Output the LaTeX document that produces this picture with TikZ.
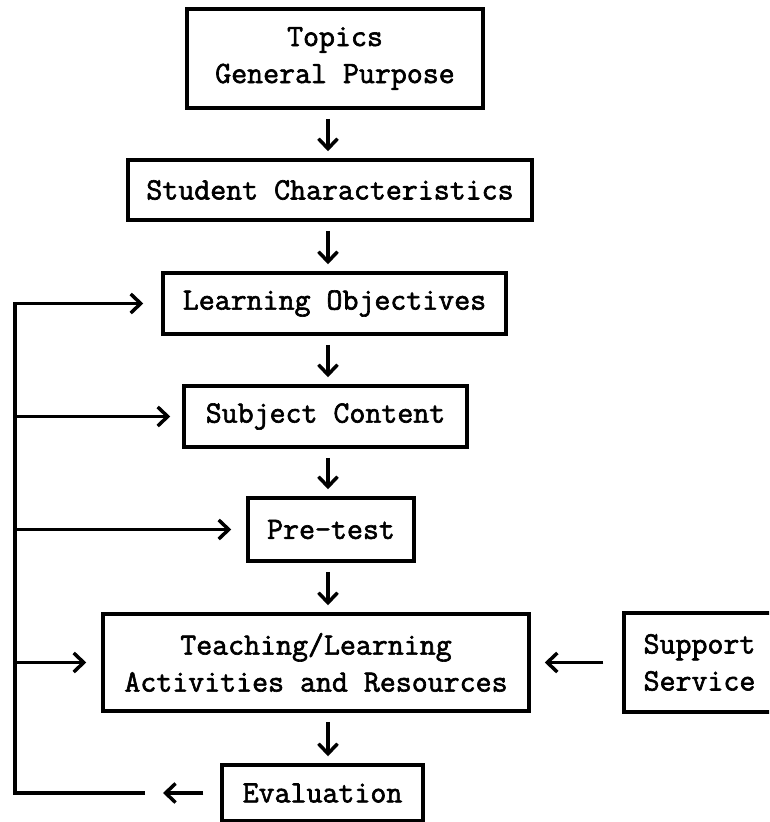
\documentclass[tikz,border=0pt]{standalone}
\usepackage{fontspec}
\usepackage{tikz}
\usetikzlibrary{arrows.meta, positioning}
\newfontfamily\typerfont{Latin Modern Mono}[FakeBold=2]
\tikzstyle{flowbox} = [draw, rectangle, line width=3.5pt, inner sep=0pt, align=center, font=\typerfont\fontsize{31}{37}\selectfont]
\tikzstyle{wire} = [line width=3.5pt]
\tikzstyle{flow} = [->, line width=3.5pt]
\tikzstyle{flowdown} = [flow, shorten <=9pt, shorten >=7pt]

\begin{document}
\begin{tikzpicture}[x=1pt, y=-1pt, >={Straight Barb[length=10pt,width=19pt]}]
        \path [use as bounding box, clip] (0,0) rectangle (769,822);

        % Nodes
        \node [flowbox, minimum width=296pt, minimum height=99pt] (topics) at (335,58.5) {Topics\\General Purpose};
        \node [flowbox, below of=topics, node distance=131.5pt, xshift=-5pt, minimum width=404pt, minimum height=60pt] (student) {Student Characteristics};
        \node [flowbox, below of=student, node distance=113.5pt, xshift=4.5pt, minimum width=343pt, minimum height=61pt] (objectives) {Learning Objectives};
        \node [flowbox, below of=objectives, node distance=113pt, xshift=-9pt, minimum width=283pt, minimum height=61pt] (content) {Subject Content};
        \node [flowbox, below of=content, node distance=113pt, xshift=5.5pt, minimum width=166pt, minimum height=63pt] (pretest) {Pre-test};
        \node [flowbox, below of=pretest, node distance=133pt, xshift=-15pt, minimum width=426pt, minimum height=97pt] (teaching) {Teaching/Learning\\Activities and Resources};
        \node [flowbox, right of=teaching, node distance=383.5pt, minimum width=151pt, minimum height=99pt] (support) {Support\\Service};
        \node [flowbox, below of=teaching, node distance=130.5pt, xshift=6.5pt, minimum width=201pt, minimum height=56pt] (evaluation) {Evaluation};

        % Coordinates
        \coordinate (spine) at (328,0);
        \coordinate (railtop) at (15,303.5);
        \coordinate (railbot) at (15,793);
        \coordinate (gapend) at (145,793);

        % Lines
        \draw [flowdown] (topics.south -| spine) -- (student.north -| spine);
        \draw [flowdown] (student.south -| spine) -- (objectives.north -| spine);
        \draw [flowdown] (objectives.south -| spine) -- (content.north -| spine);
        \draw [flowdown] (content.south -| spine) -- (pretest.north -| spine);
        \draw [flowdown] (pretest.south -| spine) -- (teaching.north -| spine);
        \draw [flowdown] (teaching.south -| spine) -- (evaluation.north -| spine);

        \draw [flow, shorten <=19pt, shorten >=14pt] (support.west) -- (teaching.east);

        \draw [flow, shorten >=18pt] (gapend) -- (railbot) -- (railtop) -- (objectives.west);
        \draw [flow, shorten >=12pt] (railtop |- content) -- (content.west);
        \draw [flow, shorten >=15pt] (railtop |- pretest) -- (pretest.west);
        \draw [flow, shorten >=15pt] (railtop |- teaching) -- (teaching.west);
        \draw [flow, shorten <=17pt, shorten >=18pt] (evaluation.west) -- (gapend);
    \end{tikzpicture}
\end{document}
